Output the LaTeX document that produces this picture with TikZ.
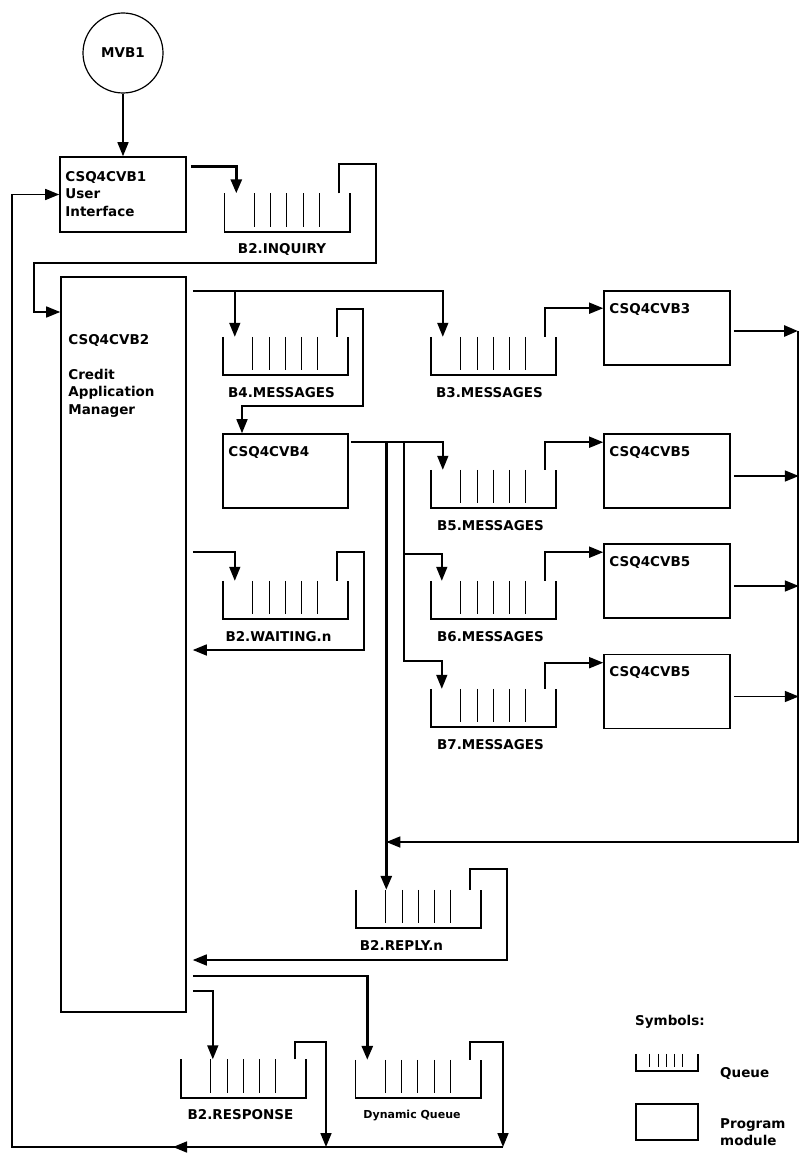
\documentclass[tikz,border=0pt]{standalone}
\usepackage{fontspec}
\setmainfont{DejaVu Sans}
\usetikzlibrary{arrows.meta, positioning}

\newcommand{\labfont}{\fontsize{13.5}{17.5}\selectfont\bfseries}

\begin{document}
\begin{tikzpicture}[
  x=1pt, y=-1pt,
  ln/.style={line width=1.6pt},
  thk/.style={line width=2.8pt},
  arr/.style={ln, -{Triangle[length=14pt, width=11pt]}},
  prog/.style={draw, line width=1.6pt, minimum width=126pt, minimum height=74pt, inner sep=0pt},
  boxtxt/.style={anchor=north west, inner sep=0pt, align=left, font=\labfont, xshift=6pt, yshift=-13pt},
  queue/.style={minimum width=125pt, minimum height=38pt, inner sep=0pt},
  wall/.style={line width=1.6pt},
  bar/.style={line width=0.8pt},
  qlab/.style={anchor=north, inner sep=0pt, font=\labfont},
  txt/.style={anchor=north west, inner sep=0pt, align=left, font=\labfont}
]
  \useasboundingbox (0,0) rectangle (809,1161);

  % program modules
  \node[circle, draw, line width=1.2pt, minimum size=80pt, inner sep=0pt, font=\labfont] (mvb) at (123,53) {MVB1};
  \node[prog, minimum height=75pt, label={[boxtxt, yshift=-2pt]north west:{CSQ4CVB1\\User\\Interface}}] (b1) at (123,194.5) {};
  \node[prog, minimum width=125pt, minimum height=735pt,
        label={[boxtxt, xshift=2pt, yshift=-45pt]north west:{CSQ4CVB2\\[17.5pt]Credit\\Application\\Manager}}] (b2) at (123.5,644.5) {};
  \node[prog, label={[boxtxt]north west:CSQ4CVB3}] (b3) at (667,328) {};
  \node[prog, minimum width=125pt, label={[boxtxt]north west:CSQ4CVB4}] (b4) at (285.5,471) {};
  \node[prog, label={[boxtxt]north west:CSQ4CVB5}] (b5a) at (667,471) {};
  \node[prog, label={[boxtxt]north west:CSQ4CVB5}] (b5b) at (667,581) {};
  \node[prog, label={[boxtxt]north west:CSQ4CVB5}] (b5c) at (667,691.5) {};
  \coordinate (b2r) at ([xshift=6pt]b2.east);

  % queues
  \foreach \nm/\cx/\cy/\ix/\lx/\lab in {
      qinq/287/212.5/12/-5/B2.INQUIRY,
      qb4/285.5/356/12/-4/B4.MESSAGES,
      qb3/493.5/356/12/-4/B3.MESSAGES,
      qb5/493.5/489/12/-3/B5.MESSAGES,
      qb6/493.5/600/11/-3/B6.MESSAGES,
      qb7/493.5/708/11/-3/B7.MESSAGES,
      qwait/285.5/600/12/-7/B2.WAITING.n,
      qreply/418.5/909/30.5/-17/B2.REPLY.n,
      qresp/243.5/1078.5/32/-3/B2.RESPONSE,
      qdyn/418/1079/12/-6/{\fontsize{11}{13}\selectfont Dynamic Queue}} {
    \node[queue] (\nm) at (\cx,\cy) {};
    \draw[wall] (\nm.north west) -- (\nm.south west) -- (\nm.south east) -- (\nm.north east);
    \foreach \k [evaluate=\k as \bx using 30+16.25*\k] in {0,...,4}
      \draw[bar] ([xshift=\bx]\nm.north west) -- ([xshift=\bx, yshift=5]\nm.south west);
    \coordinate (\nm-in) at ([xshift=\ix]\nm.north west);
    \coordinate (\nm-out) at ([xshift=-11]\nm.north east);
    \node[qlab] (\nm-lab) at ([xshift=\lx, yshift=-12]\nm.south) {\lab};
  }

  % user interface
  \draw[arr] (mvb) -- (b1);
  \draw[arr, thk] ([shift={(4,10)}]b1.north east) -| (qinq-in);
  \draw[arr] (qinq-out) |- (376,164) |- (34,263) |- (b2.west |- 0,312);

  % credit application manager
  \draw[arr] (b2r |- 0,291) -| (qb3-in);
  \draw[arr] (qb4-in |- 0,291) -- (qb4-in);
  \draw[arr] (qb4-out) |- (363,309) |- (242,406) -- (242,0 |- b4.north);
  \draw[arr] (qb3-out) |- ([yshift=-18]b3.north west);

  \coordinate (fork) at (404,443);
  \draw[arr] ([shift={(2,9)}]b4.north east) -| (qb5-in);
  \draw[arr, thk] (qreply-in |- 0,443) -- (qreply-in);
  \draw[arr] (fork) |- (qb7-in |- 0,661) -- (qb7-in);
  \draw[arr] (fork |- 0,554) -| (qb6-in);
  \foreach \q/\b in {qb5/b5a, qb6/b5b, qb7/b5c}
    \draw[arr] (\q-out) |- ([yshift=-9]\b.north west);

  \coordinate (bus) at (798,331);
  \draw[arr, thk] ([shift={(3,3)}]b3.east) -- (bus);
  \foreach \b in {b5a, b5b, b5c}
    \draw[arr] ([shift={(3,5)}]\b.east) -- ++(65,0);
  \draw[arr] (bus) |- (qreply-in |- 0,842);

  % waiting and reply
  \draw[arr] (b2r |- 0,552) -| (qwait-in);
  \draw[arr] (qwait-out) |- (364,552) |- (b2r |- 0,650);
  \draw[arr] (qreply-out) |- (507,869) |- (b2r |- 0,960);

  % responses
  \draw[arr, thk] (b2r |- 0,976) -| (qdyn-in);
  \draw[arr] (b2r |- 0,991) -| (qresp-in);
  \draw[arr] (qresp-out) |- (326,1042) -- (326,1147);
  \draw[arr] (qdyn-out) |- (503,1042) -- (503,1147);
  \draw[arr] (503,1147) -| (12,194.5) -- (b1.west);
  \draw[arr] (326,1147) -- (173,1147);

  % symbols
  \node[txt] (symt) at (635,1015) {Symbols:};
  \node[queue, minimum width=62pt, minimum height=17pt] (qsym) at (667,1062.5) {};
  \draw[wall] (qsym.north west) -- (qsym.south west) -- (qsym.south east) -- (qsym.north east);
  \foreach \k [evaluate=\k as \bx using 14+8.25*\k] in {0,...,4}
    \draw[bar] ([xshift=\bx]qsym.north west) -- ([xshift=\bx, yshift=4]qsym.south west);
  \node[txt] (qsymt) at (720,1067) {Queue};
  \node[prog, minimum width=62pt, minimum height=36pt] (psym) at (667,1122) {};
  \node[txt] (psymt) at (720,1118) {Program\\module};
\end{tikzpicture}
\end{document}
